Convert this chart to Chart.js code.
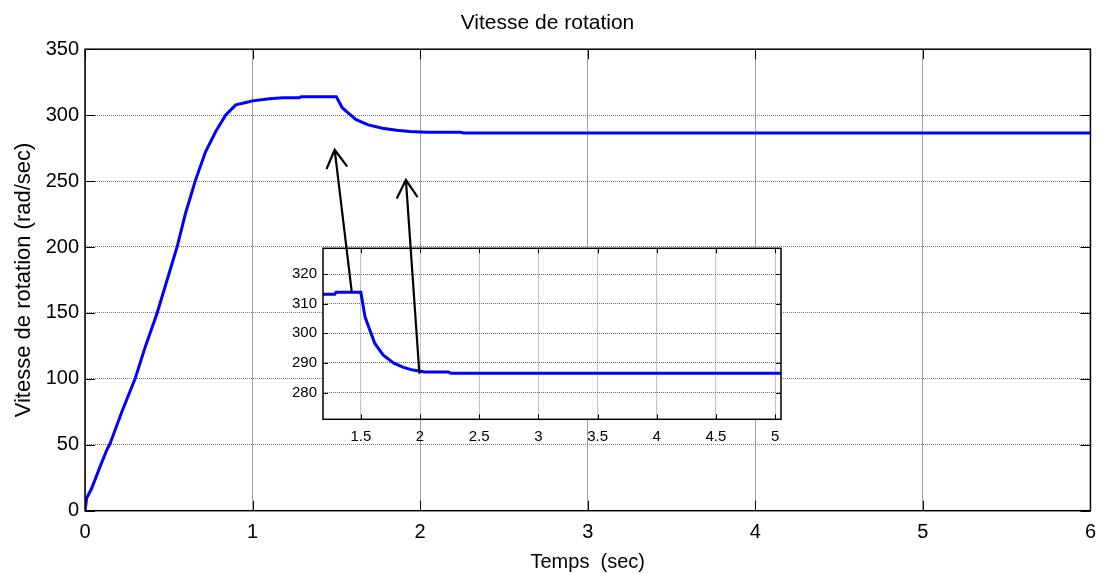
<!DOCTYPE html>
<html>
<head>
<meta charset="utf-8">
<script src="https://cdn.jsdelivr.net/npm/chart.js@4.4.1/dist/chart.umd.min.js"></script>
<style>
  html, body { margin: 0; padding: 0; background: #fff; }
  #wrap { position: relative; width: 1106px; height: 574px; }
  #wrap canvas { position: absolute; left: 0; top: 0; }
</style>
</head>
<body>
<div id="wrap">
  <canvas id="mainChart" width="1106" height="574"></canvas>
  <canvas id="insetChart" width="1106" height="574"></canvas>
</div>
<script>
// rotor speed (rad/sec) vs time (sec)
const timeSec = [0, 0.01, 0.04, 0.09, 0.13, 0.15, 0.22, 0.30, 0.36, 0.43, 0.49, 0.55, 0.60, 0.66,
  0.72, 0.78, 0.84, 0.90, 0.96, 1.00, 1.10, 1.18, 1.28, 1.29, 1.50, 1.535, 1.563, 1.618, 1.69, 1.775,
  1.86, 1.94, 2.04, 2.24, 2.26, 6.00];
const speed = [0, 9.6, 17, 33.4, 46, 51, 75, 100.4, 124.4, 149.8, 175, 200.3, 225.6, 250.9,
  272.4, 287.6, 300.2, 307.8, 309.6, 310.8, 312.5, 313.2, 313.2, 313.9, 313.9, 305.6, 302.5, 296.6, 292.6, 290,
  288.5, 287.6, 287.0, 287.0, 286.5, 286.5];

const mainXTicks = [0, 1, 2, 3, 4, 5, 6];
const mainYTicks = [0, 50, 100, 150, 200, 250, 300, 350];
const insetXTicks = [1.5, 2, 2.5, 3, 3.5, 4, 4.5, 5];
const insetYTicks = [280, 290, 300, 310, 320];

// arrows: tail in inset coordinates, tip in main-axes coordinates
const arrowTails = [[1.423, 314], [1.994, 286.7]];
const arrowTips = [[1.49, 273.7], [1.915, 250.9]];

const FONT = 'Arial, "Liberation Sans", Helvetica, sans-serif';
const points = timeSec.map((t, i) => ({ x: t, y: speed[i] }));

// matlab style box + inward ticks on all four sides
const matlabFrame = {
  id: 'matlabFrame',
  beforeDraw(chart, args, opts) {
    if (!opts.fill) return;
    const a = chart.chartArea;
    chart.ctx.save();
    chart.ctx.fillStyle = '#fff';
    chart.ctx.fillRect(a.left, a.top, a.right - a.left, a.bottom - a.top);
    chart.ctx.restore();
  },
  afterDraw(chart, args, opts) {
    const { ctx, chartArea: a, scales: { x, y } } = chart;
    const L = opts.tick;
    ctx.save();
    ctx.strokeStyle = '#000';
    ctx.lineWidth = 1;
    ctx.beginPath();
    opts.xTicks.forEach(v => {
      const px = Math.round(x.getPixelForValue(v)) + 0.5;
      ctx.moveTo(px, a.bottom); ctx.lineTo(px, a.bottom - L);
      ctx.moveTo(px, a.top); ctx.lineTo(px, a.top + L);
    });
    opts.yTicks.forEach(v => {
      const py = Math.round(y.getPixelForValue(v)) + 0.5;
      ctx.moveTo(a.left, py); ctx.lineTo(a.left + L, py);
      ctx.moveTo(a.right, py); ctx.lineTo(a.right - L, py);
    });
    ctx.stroke();
    ctx.lineWidth = 1.5;
    ctx.strokeRect(a.left, a.top, a.right - a.left, a.bottom - a.top);
    ctx.restore();
  }
};

function drawArrow(ctx, x0, y0, x1, y1) {
  const ang = Math.atan2(y1 - y0, x1 - x0);
  const head = 20, spread = Math.PI / 6;
  ctx.beginPath();
  ctx.moveTo(x0, y0);
  ctx.lineTo(x1, y1);
  ctx.moveTo(x1 - head * Math.cos(ang - spread), y1 - head * Math.sin(ang - spread));
  ctx.lineTo(x1, y1);
  ctx.lineTo(x1 - head * Math.cos(ang + spread), y1 - head * Math.sin(ang + spread));
  ctx.stroke();
}

let mainChart;

const arrowsPlugin = {
  id: 'arrows',
  afterDraw(chart) {
    const ctx = chart.ctx;
    ctx.save();
    ctx.strokeStyle = '#000';
    ctx.lineWidth = 2.2;
    ctx.lineCap = 'round';
    arrowTails.forEach((tail, i) => {
      const tip = arrowTips[i];
      drawArrow(ctx,
        chart.scales.x.getPixelForValue(tail[0]), chart.scales.y.getPixelForValue(tail[1]),
        mainChart.scales.x.getPixelForValue(tip[0]), mainChart.scales.y.getPixelForValue(tip[1]));
    });
    ctx.restore();
  }
};

function fixedTicks(arr) {
  return scale => { scale.ticks = arr.map(v => ({ value: v })); };
}
const plainLabel = v => String(v);

mainChart = new Chart(document.getElementById('mainChart'), {
  type: 'line',
  data: {
    datasets: [{
      data: points,
      borderColor: '#0000ff',
      borderWidth: 3,
      pointRadius: 0,
      tension: 0,
    }],
  },
  options: {
    responsive: false,
    animation: false,
    layout: { padding: { left: 0, right: 11, top: 0, bottom: 0 } },
    plugins: {
      legend: { display: false },
      tooltip: { enabled: false },
      title: {
        display: true,
        text: 'Vitesse de rotation',
        color: '#000',
        font: { family: FONT, size: 21, weight: 'normal' },
        padding: { top: 11, bottom: 13 },
      },
      matlabFrame: { tick: 10, xTicks: mainXTicks, yTicks: mainYTicks, fill: false },
    },
    scales: {
      x: {
        type: 'linear', min: 0, max: 6,
        afterBuildTicks: fixedTicks(mainXTicks),
        afterFit: s => { s.height = 63.3; },
        ticks: { color: '#000', font: { family: FONT, size: 20 }, padding: 10, maxRotation: 0, autoSkip: false, callback: plainLabel },
        grid: { color: '#a0a0a0', drawTicks: false },
        border: { display: false },
        title: {
          display: true, text: 'Temps  (sec)', color: '#000',
          font: { family: FONT, size: 20 }, padding: { top: 0, bottom: 0 },
        },
      },
      y: {
        type: 'linear', min: 0, max: 350,
        afterBuildTicks: fixedTicks(mainYTicks),
        afterFit: s => { s.width = 85; },
        ticks: { color: '#000', font: { family: FONT, size: 20 }, padding: 6, autoSkip: false, callback: plainLabel },
        grid: { color: '#7a7a7a', drawTicks: false },
        border: { display: false, dash: [1, 1] },
        title: {
          display: true, text: 'Vitesse de rotation (rad/sec)', color: '#000',
          font: { family: FONT, size: 22 }, padding: { top: 11, bottom: 0 },
        },
      },
    },
  },
  plugins: [matlabFrame],
});

new Chart(document.getElementById('insetChart'), {
  type: 'line',
  data: {
    datasets: [{
      data: points,
      borderColor: '#0000ff',
      borderWidth: 3,
      pointRadius: 0,
      tension: 0,
    }],
  },
  options: {
    responsive: false,
    animation: false,
    layout: { padding: { left: 283, right: 325, top: 248.3, bottom: 124.7 } },
    plugins: {
      legend: { display: false },
      tooltip: { enabled: false },
      title: { display: false },
      matlabFrame: { tick: 5, xTicks: insetXTicks, yTicks: insetYTicks, fill: true },
    },
    scales: {
      x: {
        type: 'linear', min: 1.18, max: 5.05,
        afterBuildTicks: fixedTicks(insetXTicks),
        afterFit: s => { s.height = 30; },
        ticks: { color: '#000', font: { family: FONT, size: 15 }, padding: 9, maxRotation: 0, autoSkip: false, callback: plainLabel },
        grid: { color: '#8a8a8a', drawTicks: false },
        border: { display: false, dash: [1, 1] },
      },
      y: {
        type: 'linear', min: 271, max: 328.7,
        afterBuildTicks: fixedTicks(insetYTicks),
        afterFit: s => { s.width = 40; },
        ticks: { color: '#000', font: { family: FONT, size: 15 }, padding: 6, autoSkip: false, callback: plainLabel },
        grid: { color: '#6a6a6a', drawTicks: false },
        border: { display: false, dash: [1, 1] },
      },
    },
  },
  plugins: [matlabFrame, arrowsPlugin],
});
</script>
</body>
</html>
